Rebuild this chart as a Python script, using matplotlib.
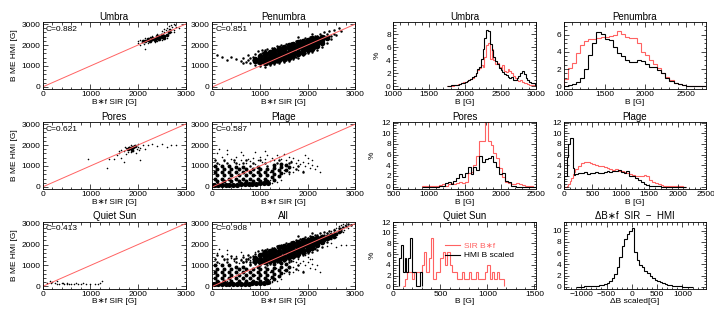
import numpy as np
import matplotlib
matplotlib.use("Agg")
import matplotlib.pyplot as plt
from matplotlib.ticker import MultipleLocator, AutoMinorLocator
from matplotlib.lines import Line2D

plt.rcParams['font.family'] = ['Liberation Sans', 'DejaVu Sans']

RED = '#ff6262'

# ---------------- scatter data (B*f SIR vs B ME HMI) ----------------
one_to_one = [0, 3000]

umbra_core_x = [2100, 2150, 2200, 2250, 2300, 2350, 2400, 2450, 2500, 2550, 2600, 2200, 2300, 2400, 2500,
                2250, 2350, 2450, 2550, 2650]
umbra_core_y = [2180, 2200, 2230, 2250, 2280, 2300, 2330, 2370, 2400, 2450, 2500, 2300, 2350, 2420, 2500,
                2180, 2240, 2290, 2350, 2600]
umbra_dot_x = [2000, 2050, 2150, 2050, 2150, 2300, 2400, 2500, 2550, 2600, 2650, 2700, 2750, 2700, 2800,
               2750, 2600, 2500, 2350, 2450, 2550, 2650, 2720, 2780, 2850, 2400, 2300, 2200, 2250, 2120,
               2000, 2080, 2620, 2680, 2760, 2580, 2480, 2700]
umbra_dot_y = [2100, 2250, 2350, 2000, 1800, 2450, 2550, 2650, 2750, 2800, 2900, 2950, 3000, 2700, 2850,
               2600, 2350, 2250, 2150, 2500, 2600, 2750, 2850, 2950, 2800, 2200, 2350, 2100, 2400, 2050,
               2180, 2150, 2650, 2780, 2700, 2700, 2550, 2620]

pen_core_x = [900, 900,
              1000, 1000, 1000,
              1100, 1100, 1100, 1100, 1100,
              1200, 1200, 1200, 1200, 1200,
              1300, 1300, 1300, 1300, 1300,
              1400, 1400, 1400, 1400, 1400,
              1500, 1500, 1500, 1500, 1500,
              1600, 1600, 1600, 1600, 1600,
              1700, 1700, 1700, 1700, 1700,
              1800, 1800, 1800, 1800, 1800,
              1900, 1900, 1900, 1900, 1900,
              2000, 2000, 2000, 2000, 2000,
              2100, 2100, 2100, 2100, 2100,
              2200, 2200, 2200, 2200,
              2300, 2300, 2300,
              2400]
pen_core_y = [1220, 1340,
              1180, 1330, 1480,
              1160, 1280, 1400, 1520, 1640,
              1200, 1320, 1440, 1560, 1690,
              1240, 1370, 1500, 1630, 1760,
              1270, 1410, 1560, 1710, 1860,
              1330, 1470, 1620, 1770, 1920,
              1400, 1540, 1690, 1840, 1990,
              1470, 1610, 1760, 1910, 2060,
              1550, 1690, 1840, 1990, 2140,
              1620, 1760, 1910, 2060, 2210,
              1740, 1865, 1990, 2115, 2240,
              1820, 1945, 2070, 2195, 2320,
              1960, 2080, 2200, 2330,
              2100, 2240, 2380,
              2330]
pen_dot_x = [200, 300, 400, 500, 600, 650, 700, 750, 800, 850, 900, 900, 950, 1000, 1050, 1100, 1150, 1200,
             1250, 1300, 1350, 1400, 1450, 1500, 1550, 1600, 1650, 1700, 1750, 1800, 1850, 1900, 1950, 2000,
             2050, 2100, 2150, 2200, 2250, 2300, 2350, 2400, 2450, 2500, 2550, 2600, 2650, 2100, 1800, 1300,
             1100, 100, 800, 2700, 850, 950, 1050, 1150, 1250, 1350, 1450, 1550, 1650, 1750, 1850, 1950,
             2050, 2150, 2250, 2350, 2450, 2550, 750, 650, 1000, 1200, 1400, 1600, 2000, 2200, 2400, 2500]
pen_dot_y = [1450, 1300, 1450, 1350, 1250, 1400, 1200, 1500, 1150, 1300, 1050, 1550, 1700, 1000, 1750, 950,
             1800, 1050, 1850, 1100, 1950, 1150, 2000, 1200, 2050, 1250, 2100, 1350, 2200, 1400, 2250, 1500,
             2350, 1600, 2400, 1650, 2450, 1750, 2550, 1900, 2600, 2100, 2650, 2300, 2700, 2500, 2800, 2550,
             2400, 1850, 1750, 1500, 1400, 2650, 1450, 1150, 1600, 1100, 1750, 1200, 1850, 1300, 1950, 1450,
             2100, 1600, 2250, 1850, 2350, 2450, 2450, 2550, 1300, 1150, 1550, 1650, 1800, 1950, 2300, 2450,
             2550, 2450]

pores_core_x = [1780, 1820, 1860, 1900, 1940, 1880]
pores_core_y = [1800, 1850, 1880, 1920, 1950, 1780]
pores_dot_x = [1400, 1500, 1550, 1600, 1650, 1700, 1750, 1800, 1850, 1900, 1950, 2000, 2050, 2100, 2150, 2200,
               2300, 2400, 2500, 2600, 2700, 2800, 1700, 2050, 1340, 960, 1750, 1650, 1950, 2000, 1720, 1780,
               1980, 2020, 1600, 1850]
pores_dot_y = [1350, 1350, 1500, 1600, 1400, 1700, 1550, 1900, 2000, 1700, 1950, 2050, 1850, 2000, 1800, 2000,
               2050, 1950, 2050, 1900, 2000, 2000, 1200, 1300, 900, 1320, 1850, 1750, 1600, 1900, 1900, 1650,
               1800, 1750, 1700, 1650]

plage_band_x = [40, 120, 200, 280, 360, 440, 520, 600, 680, 760, 840, 920, 1000, 1080, 1160]
plage_band_y = [110, 100, 100, 100, 100, 105, 110, 115, 120, 130, 140, 150, 165, 180, 200]
# densely populated part of the plage cloud
plage_dense_x = [50, 200, 350, 500, 650, 950, 1300, 1450, 1550,
                 100, 250, 400, 550, 700, 850, 1000, 1150, 1300, 1450, 1600,
                 50, 200, 350, 500, 650, 800, 950, 1100, 1250, 1400, 1550,
                 100, 250, 400, 550, 700, 850, 1000, 1150, 1300, 1450,
                 50, 200, 350, 500, 650, 800, 950, 1100, 1250, 1400,
                 100, 250, 400, 550, 700, 850, 1000, 1150, 1300]
plage_dense_y = [1000, 1000, 1000, 950, 950, 950, 1050, 1100, 1050,
                 850, 850, 850, 850, 850, 850, 850, 850, 900, 950, 950,
                 700, 700, 700, 700, 700, 700, 700, 700, 750, 800, 800,
                 550, 550, 550, 550, 550, 550, 550, 550, 600, 650,
                 400, 400, 400, 400, 400, 400, 400, 400, 450, 500,
                 270, 270, 270, 270, 270, 270, 270, 300, 350]
plage_mid_x = [50, 250, 450, 700, 1000, 1400,
               100, 300, 500, 650, 850, 1100, 1350, 1600,
               800, 1150, 1650, 1800, 1750, 1600, 1900]
plage_mid_y = [1300, 1300, 1300, 1300, 1300, 1300,
               1150, 1150, 1150, 1150, 1150, 1150, 1150, 1150,
               1000, 1000, 1200, 1000, 850, 700, 700]
plage_dot_x = [50, 100, 150, 200, 250, 300, 350, 400, 450, 500, 550, 600, 650, 700, 750, 800, 850, 900, 950,
               1000, 1050, 1100, 1150, 1200, 1250, 1300, 1350, 1400, 1450, 1500, 1550, 1600, 1650, 1700, 1750,
               1800, 1850, 1900, 1950, 2000, 2050, 2100, 2150, 2200, 2250, 1700, 1800, 1900, 1600, 1500, 1400,
               1300, 1200, 1100, 1600, 1700, 1800, 1500, 1400, 1200, 1000, 900, 1250, 1350, 1450, 2000, 2100,
               1950, 300, 600, 150, 900, 1100]
plage_dot_y = [1300, 1600, 1100, 1450, 1250, 1550, 1000, 1350, 1200, 1450, 1100, 1300, 1500, 1150, 1350, 1250,
               1400, 1100, 1300, 1450, 1200, 1350, 1500, 1250, 1400, 1300, 1500, 1450, 1350, 1550, 1300, 1450,
               1250, 1400, 1150, 1300, 1100, 1200, 1000, 1150, 900, 1050, 850, 1000, 700, 700, 800, 750, 600,
               650, 500, 400, 350, 300, 900, 950, 1000, 800, 750, 700, 650, 550, 200, 250, 350, 1400, 1300, 1500,
               1750, 1650, 1800, 1650, 1700]

qs_dot_x = [100, 150, 200, 250, 300, 350, 400, 450, 500, 550, 600, 650, 700, 750, 800, 900, 1000, 1100, 1200,
            1250, 1150, 300, 180, 420, 520, 850]
qs_dot_y = [150, 250, 200, 150, 120, 130, 150, 120, 140, 100, 130, 110, 150, 100, 120, 100, 110, 130, 150,
            260, 100, 250, 160, 180, 110, 140]

# extra points of the combined sample between the classes above
all_extra_x = [2700, 2750, 2800, 2850, 2900, 2650, 2600, 2500, 1200, 1300, 1400, 1500, 1100, 1000, 900, 800,
               2300, 2400, 2500, 2600]
all_extra_y = [2750, 2850, 2900, 3000, 2950, 2650, 2550, 2450, 1250, 1350, 1400, 1450, 1200, 1150, 1100, 1050,
               2200, 2300, 2400, 2500]

# ---------------- histogram data (%) ----------------
umbra_bin_start, umbra_bin_width = 1750, 25
umbra_hmi = [0.05, 0.05, 0.1, 0.1, 0.1, 0.15, 0.2, 0.3, 0.4, 0.5, 0.7, 0.8, 1.0, 1.1, 1.4, 1.6, 2.0, 2.6, 3.0,
             4.2, 5.8, 7.5, 8.7, 8.5, 6.5, 5.5, 4.5, 3.8, 3.4, 2.8, 2.5, 2.2, 1.9, 1.7, 1.4, 1.2, 1.4, 1.0, 0.9,
             1.2, 1.6, 2.0, 2.3, 1.8, 1.3, 0.9, 0.7, 0.5, 0.4, 0.2]
umbra_sir = [0, 0, 0, 0.05, 0.1, 0.2, 0.3, 0.3, 0.5, 0.6, 0.7, 0.8, 1.0, 1.1, 1.3, 1.6, 2.0, 2.5, 2.8, 3.3, 3.0,
             4.5, 6.3, 6.6, 4.2, 5.8, 4.0, 3.4, 3.6, 3.0, 2.6, 3.2, 2.4, 2.2, 2.7, 2.3, 2.0, 1.6, 1.3, 1.0, 0.8,
             0.9, 0.6, 0.5, 0.4, 0.3, 0.2, 0.2, 0.1, 0.05]

pen_bin_start, pen_bin_width = 1000, 50
pen_hmi = [0.05, 0.15, 0.3, 0.5, 1.0, 2.0, 3.6, 5.0, 6.3, 6.1, 5.5, 5.4, 4.6, 3.9, 3.5, 3.1, 2.8, 2.8, 3.0, 2.9,
           2.6, 2.3, 2.2, 1.9, 1.5, 1.0, 0.6, 0.4, 0.25, 0.15, 0.08, 0.05, 0.03, 0.02, 0.01]
pen_sir = [0.9, 2.1, 2.7, 3.9, 4.8, 5.3, 5.5, 5.5, 5.6, 5.7, 5.7, 5.8, 6.0, 6.4, 6.1, 5.7, 5.6, 5.6, 5.0, 4.0,
           3.6, 3.1, 2.6, 2.1, 1.6, 1.1, 0.7, 0.45, 0.25, 0.15, 0.08, 0.05, 0.03, 0.02, 0.01]

pores_bin_start, pores_bin_width = 900, 40
pores_sir = [0.2, 0.1, 0.1, 0.1, 0.2, 0.1, 0.3, 0.5, 0.2, 0.4, 0.6, 0.5, 0.7, 0.8, 0.6, 0.9, 2.6, 2.7, 4.0, 5.8,
             8.6, 8.6, 12.2, 8.6, 7.8, 6.2, 5.4, 3.4, 1.8, 0.9, 0.6, 0.5, 0.5, 0.7, 0.5, 0.3, 0.2, 0.1, 0.05, 0]
pores_hmi = [0, 0, 0, 0, 0, 0, 0.1, 0.2, 0.6, 0.8, 0.5, 1.0, 1.6, 2.3, 1.8, 2.5, 3.6, 2.3, 3.6, 3.2, 5.8, 4.6,
             5.1, 5.3, 5.7, 4.6, 3.7, 2.4, 2.6, 1.0, 0.8, 0.2, 0.05, 0, 0, 0, 0, 0, 0, 0]

plage_fine_start, plage_fine_width, plage_fine_n = 0, 25, 8
plage_coarse_width = 50
plage_hmi = [2.0, 2.0, 5.5, 8.0, 9.1, 9.1, 3.5, 2.2,
             2.4, 2.6, 2.5, 2.8, 2.4, 2.6, 2.5, 2.8, 2.6, 2.5, 2.7, 2.9, 2.8, 3.0, 3.0, 3.1, 2.8, 2.6, 2.9,
             2.0, 2.0, 1.6, 1.2, 0.8, 0.5, 0.3, 0.15, 0.08, 0.04, 0.02, 0.01, 0, 0, 0, 0, 0, 0, 0, 0]
plage_sir = [0, 0, 0.2, 0.5, 1.0, 1.6, 2.4, 2.8,
             3.3, 3.8, 4.4, 4.7, 4.6, 4.4, 4.2, 4.1, 3.8, 3.8, 3.6, 3.4, 3.3, 3.1, 3.3, 3.0, 2.9, 2.7, 2.6,
             2.4, 2.2, 2.0, 2.0, 1.9, 2.1, 1.9, 1.3, 0.9, 0.6, 0.45, 0.3, 0.2, 0.15, 0.1, 0.08, 0.05, 0.03,
             0.02, 0.01]

qs_hmi_bin_start, qs_hmi_bin_width = 60, 20
qs_hmi = [5.2, 7.7, 2.6, 5.2, 2.6, 5.2, 9.0, 2.6, 2.6, 0, 0, 2.6]
qs_sir_bin_start, qs_sir_bin_width = 100, 25
qs_sir = [0, 1.3, 2.6, 2.6, 1.3, 2.6, 2.6, 2.6, 4.0, 6.5, 2.6, 5.2, 9.0, 1.3, 2.6, 2.6, 5.2, 6.5, 4.0, 6.5, 4.0,
          2.6, 2.6, 1.3, 1.3, 2.6, 1.3, 1.3, 2.6, 1.3, 1.3, 2.6, 1.3, 1.3, 1.3, 2.6, 4.0, 1.3, 2.6, 1.3, 2.6,
          1.3, 1.3]

dB_bin_start, dB_bin_width = -1100, 50
dB_hist = [0.02, 0.03, 0.05, 0.06, 0.08, 0.1, 0.12, 0.15, 0.2, 0.25, 0.35, 0.5, 0.7, 1.0, 1.5, 2.3, 3.6, 5.3,
           7.2, 8.5, 9.4, 10.0, 10.5, 6.2, 4.8, 3.9, 3.5, 2.8, 2.4, 1.9, 1.5, 1.2, 1.0, 0.8, 0.65, 0.5, 0.4,
           0.3, 0.22, 0.15, 0.1, 0.08, 0.05, 0.03, 0.02, 0.01]

corr = {'Umbra': 0.882, 'Penumbra': 0.851, 'Pores': 0.621, 'Plage': 0.587, 'Quiet Sun': 0.413, 'All': 0.908}


def edges_of(start, width, n):
    return start + width * np.arange(n + 1)


# ---------------- layout ----------------
W, H = 714, 316
fig = plt.figure(figsize=(W / 100, H / 100), dpi=100)
cols = [(42.7, 185.7), (212.3, 355.3), (393.3, 536.3), (564, 706)]
rows = [(22, 89), (122, 189), (221.5, 288.5)]
FS = 6.0
TFS = 7.0

CORE_S = 9      # big dense-cloud dots
DENSE_S = 8     # crowded speckles
MID_S = 3.2     # speckle dots
DOT_S = 1.3     # isolated dots
BAND_S = 14


def make_ax(r, c):
    l, rr = cols[c]
    t, b = rows[r]
    return fig.add_axes([l / W, 1 - b / H, (rr - l) / W, (b - t) / H])


def style(ax, xmaj, ymaj, xminor=5, yminor=5):
    ax.xaxis.set_major_locator(MultipleLocator(xmaj))
    ax.yaxis.set_major_locator(MultipleLocator(ymaj))
    ax.xaxis.set_minor_locator(AutoMinorLocator(xminor))
    ax.yaxis.set_minor_locator(AutoMinorLocator(yminor))
    ax.tick_params(which='both', direction='in', top=True, right=True, width=0.5,
                   labelsize=FS, pad=1.8, colors='black')
    ax.tick_params(which='major', length=3.5)
    ax.tick_params(which='minor', length=1.8)
    for s in ax.spines.values():
        s.set_linewidth(0.6)


def scatter_panel(ax, name, layers, ylabel):
    for xs, ys, size in layers:
        ax.scatter(xs, ys, s=size, c='black', linewidths=0, marker='o')
    ax.plot(one_to_one, one_to_one, color=RED, lw=0.7)
    ax.set_xlim(0, 3000)
    ax.set_ylim(-100, 3100)
    style(ax, 1000, 1000)
    ax.set_title(name, fontsize=TFS, pad=1.5)
    ax.set_xlabel('B\u2217f SIR [G]', fontsize=FS, labelpad=0.3)
    if ylabel:
        ax.set_ylabel('B ME HMI [G]', fontsize=FS, labelpad=2)
    ax.text(0.022, 0.89, 'C=%.3f' % corr[name], transform=ax.transAxes, fontsize=FS, va='center', ha='left')


umbra_layers = [(umbra_core_x, umbra_core_y, CORE_S * 0.8), (umbra_dot_x, umbra_dot_y, DOT_S)]
pen_layers = [(pen_core_x, pen_core_y, CORE_S * 1.8), (pen_dot_x, pen_dot_y, MID_S)]
pores_layers = [(pores_core_x, pores_core_y, CORE_S * 0.8), (pores_dot_x, pores_dot_y, DOT_S)]
plage_layers = [(plage_band_x, plage_band_y, BAND_S), (plage_dense_x, plage_dense_y, DENSE_S),
                (plage_mid_x, plage_mid_y, MID_S), (plage_dot_x, plage_dot_y, DOT_S)]
qs_layers = [(qs_dot_x, qs_dot_y, DOT_S)]

ax = make_ax(0, 0)
scatter_panel(ax, 'Umbra', umbra_layers, True)
ax = make_ax(0, 1)
scatter_panel(ax, 'Penumbra', pen_layers, False)
ax = make_ax(1, 0)
scatter_panel(ax, 'Pores', pores_layers, True)
ax = make_ax(1, 1)
scatter_panel(ax, 'Plage', plage_layers, False)
ax = make_ax(2, 0)
scatter_panel(ax, 'Quiet Sun', qs_layers, True)
ax = make_ax(2, 1)
scatter_panel(ax, 'All', umbra_layers + pen_layers + pores_layers + plage_layers + qs_layers +
              [(all_extra_x, all_extra_y, MID_S)], False)


def hist_panel(ax, title, series, xlim, ylim, xmaj, ymaj, xlabel='B [G]', ylabel=False):
    for vals, edges, color in series:
        ax.stairs(vals, edges, color=color, lw=0.8, baseline=0)
    ax.set_xlim(*xlim)
    ax.set_ylim(*ylim)
    style(ax, xmaj, ymaj, 5, 4)
    ax.set_title(title, fontsize=TFS, pad=1.5)
    ax.set_xlabel(xlabel, fontsize=FS, labelpad=0.3)
    if ylabel:
        ax.set_ylabel('%', fontsize=FS, labelpad=4)


ax = make_ax(0, 2)
ue = edges_of(umbra_bin_start, umbra_bin_width, len(umbra_hmi))
hist_panel(ax, 'Umbra', [(umbra_sir, ue, RED), (umbra_hmi, ue, 'black')], (1000, 3000), (-0.45, 9.9), 500, 2,
           ylabel=True)

ax = make_ax(0, 3)
pe = edges_of(pen_bin_start, pen_bin_width, len(pen_hmi))
hist_panel(ax, 'Penumbra', [(pen_sir, pe, RED), (pen_hmi, pe, 'black')], (1000, 2750), (-0.3, 7.45), 500, 2)

ax = make_ax(1, 2)
poe = edges_of(pores_bin_start, pores_bin_width, len(pores_hmi))
hist_panel(ax, 'Pores', [(pores_sir, poe, RED), (pores_hmi, poe, 'black')], (500, 2500), (-0.45, 12.1), 500, 2,
           ylabel=True)

ax = make_ax(1, 3)
fine = edges_of(plage_fine_start, plage_fine_width, plage_fine_n)
coarse = edges_of(fine[-1], plage_coarse_width, len(plage_hmi) - plage_fine_n)[1:]
ple = np.concatenate([fine, coarse])
hist_panel(ax, 'Plage', [(plage_sir, ple, RED), (plage_hmi, ple, 'black')], (0, 2500), (-0.45, 12.1), 500, 2)

ax = make_ax(2, 2)
qhe = edges_of(qs_hmi_bin_start, qs_hmi_bin_width, len(qs_hmi))
qse = edges_of(qs_sir_bin_start, qs_sir_bin_width, len(qs_sir))
hist_panel(ax, 'Quiet Sun', [(qs_sir, qse, RED), (qs_hmi, qhe, 'black')], (0, 1520), (-0.4, 12.1), 500, 2,
           ylabel=True)
handles = [Line2D([], [], color=RED, lw=0.8), Line2D([], [], color='black', lw=0.8)]
leg = ax.legend(handles, ['SIR B\u2217f', 'HMI B scaled'], loc='center left', bbox_to_anchor=(0.36, 0.56),
                frameon=False, fontsize=FS, handlelength=1.8, handletextpad=0.45, labelspacing=0.15,
                borderpad=0, borderaxespad=0)
leg.get_texts()[0].set_color(RED)

ax = make_ax(2, 3)
de = edges_of(dB_bin_start, dB_bin_width, len(dB_hist))
hist_panel(ax, '\u0394B\u2217f  SIR  \u2212  HMI', [(dB_hist, de, 'black')], (-1340, 1465), (-0.3, 11.6), 500, 2,
           xlabel='\u0394B scaled[G]')

fig.savefig('out.png', dpi=100)
